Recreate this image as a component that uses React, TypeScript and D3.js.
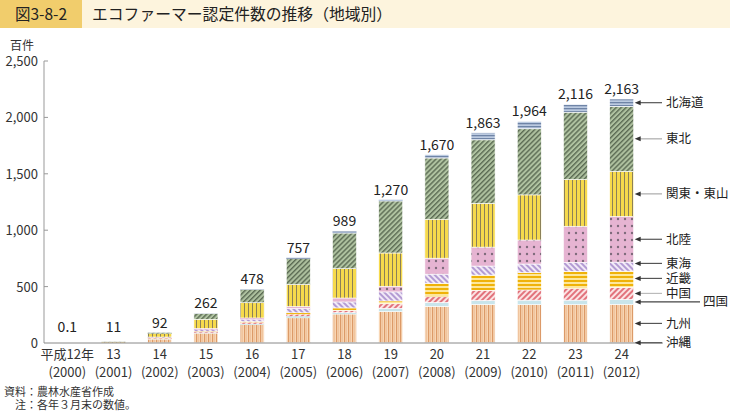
import React from "react";
import * as d3 from "d3";

const yearLabels = ["平成12年", "13", "14", "15", "16", "17", "18", "19", "20", "21", "22", "23", "24"];
const westernYears = ["(2000)", "(2001)", "(2002)", "(2003)", "(2004)", "(2005)", "(2006)", "(2007)", "(2008)", "(2009)", "(2010)", "(2011)", "(2012)"];
const totals = [0.1, 11, 92, 262, 478, 757, 989, 1270, 1670, 1863, 1964, 2116, 2163];

// stacked bottom -> top
const regions = ["沖縄", "九州", "四国", "中国", "近畿", "東海", "北陸", "関東・東山", "東北", "北海道"];
const okinawa = [0, 0.5, 2, 2, 2, 3, 3, 3, 5, 5, 5, 5, 5];
const kyushu = [0.1, 2.5, 32, 85, 160, 220, 253, 275, 320, 337, 335, 335, 337];
const shikoku = [0, 0.5, 3, 5, 8, 15, 13, 30, 35, 36, 40, 40, 45];
const chugoku = [0, 0.5, 5, 8, 12, 15, 18, 40, 50, 89, 90, 105, 105];
const kinki = [0, 0.5, 3, 5, 8, 15, 24, 25, 120, 135, 155, 150, 145];
const tokai = [0, 1, 5, 15, 20, 38, 53, 80, 80, 80, 75, 80, 80];
const hokuriku = [0, 0.5, 3, 10, 12, 18, 35, 50, 142, 168, 213, 320, 405];
const kanto = [0, 3, 30, 80, 135, 195, 260, 295, 345, 388, 400, 415, 400];
const tohoku = [0, 1.5, 8, 50, 116, 228, 315, 460, 543, 563, 586, 596, 576];
const hokkaido = [0, 0.5, 1, 2, 5, 10, 15, 12, 30, 62, 65, 70, 65];
const yTicks = [0, 500, 1000, 1500, 2000, 2500];

const seriesValues = [okinawa, kyushu, shikoku, chugoku, kinki, tokai, hokuriku, kanto, tohoku, hokkaido];
const fills = ["#9a9a9a", "url(#p-kyushu)", "#c9e5eb", "url(#p-chugoku)", "url(#p-kinki)", "url(#p-tokai)", "url(#p-hokuriku)", "url(#p-kanto)", "url(#p-tohoku)", "url(#p-hokkaido)"];
const leaderColors = ["#555", "#555", "#444", "#bbb", "#555", "#555", "#555", "#aaa", "#aaa", "#555"];

const FONT = "'Noto Sans CJK JP', 'Noto Sans', sans-serif";

export default function App() {
  const W = 730, H = 411;
  const x = d3.scaleBand<string>().domain(yearLabels).range([44, 645]).paddingInner(0.48).paddingOuter(0.245);
  const y = d3.scaleLinear().domain([0, 2500]).range([343, 61]);

  const table = yearLabels.map((yl, i) => {
    const row: any = { year: yl };
    regions.forEach((r, k) => (row[r] = seriesValues[k][i]));
    return row;
  });
  const stacked = d3.stack<any>().keys(regions)(table);
  const fmt = d3.format(",");

  const last = yearLabels.length - 1;
  const mids = stacked.map((s) => (y(s[last][0]) + y(s[last][1])) / 2);
  const labelY = mids.slice();
  const mainIdx = [0, 1, 3, 4, 5, 6, 7, 8, 9];
  for (let j = 1; j < mainIdx.length; j++) {
    const below = labelY[mainIdx[j - 1]];
    const k = mainIdx[j];
    labelY[k] = Math.min(labelY[k], below - 15);
  }
  const barRight = (x(yearLabels[last]) as number) + x.bandwidth();

  return (
    <svg width={W} height={H} style={{ position: "absolute", left: 0, top: 0, background: "#fff" }} fontFamily={FONT}>
      <defs>
        <pattern id="p-kyushu" width="4" height="4" patternUnits="userSpaceOnUse">
          <rect width="4" height="4" fill="#f8d6b4" />
          <rect x="0" width="1.2" height="4" fill="#dc9a68" />
          <rect x="2.4" width="0.6" height="4" fill="#ebb890" />
        </pattern>
        <pattern id="p-chugoku" width="4" height="4" patternUnits="userSpaceOnUse" patternTransform="rotate(45)">
          <rect width="4" height="4" fill="#fbe3e3" />
          <rect width="2" height="4" fill="#e2737c" />
        </pattern>
        <pattern id="p-kinki" width="4" height="4" patternUnits="userSpaceOnUse">
          <rect width="4" height="4" fill="#fde79c" />
          <rect width="4" height="2" fill="#efb209" />
        </pattern>
        <pattern id="p-tokai" width="4" height="4" patternUnits="userSpaceOnUse" patternTransform="rotate(-45)">
          <rect width="4" height="4" fill="#f1e9f7" />
          <rect width="2" height="4" fill="#b39bd3" />
        </pattern>
        <pattern id="p-hokuriku" width="7" height="7" patternUnits="userSpaceOnUse">
          <rect width="7" height="7" fill="#e6b4d2" />
          <circle cx="2" cy="2" r="1.2" fill="#7e6a7b" />
        </pattern>
        <pattern id="p-kanto" width="4" height="4" patternUnits="userSpaceOnUse">
          <rect width="4" height="4" fill="#f6da4c" />
          <rect x="0" width="1" height="4" fill="#8c8058" />
        </pattern>
        <pattern id="p-tohoku" width="3.5" height="3.5" patternUnits="userSpaceOnUse" patternTransform="rotate(45)">
          <rect width="3.5" height="3.5" fill="#afc2a0" />
          <rect width="1.4" height="3.5" fill="#5b6b53" />
        </pattern>
        <pattern id="p-hokkaido" width="4" height="3" patternUnits="userSpaceOnUse">
          <rect width="4" height="3" fill="#bccbe1" />
          <rect width="4" height="1.3" fill="#6f84a6" />
        </pattern>
      </defs>

      {/* Title */}
      <rect x={0} y={0} width={82} height={28} fill="#f1cd6c" />
      <rect x={82} y={0} width={648} height={28} fill="#fdf4dd" />
      <text x={15} y={20} fontSize={15.5} fill="#222">図3-8-2</text>
      <text x={92} y={20} fontSize={15.8} fill="#222">エコファーマー認定件数の推移（地域別）</text>

      <text x={10} y={50} fontSize={12} fill="#333">百件</text>

      {/* y axis */}
      <line x1={44} x2={44} y1={y(2500)} y2={y(0)} stroke="#999" strokeWidth={1} />
      {yTicks.map((t) => (
        <g key={t}>
          {t > 0 && <line x1={44} x2={48} y1={y(t)} y2={y(t)} stroke="#999" />}
          <text x={38} y={y(t) + 5} fontSize={13} textAnchor="end" fill="#333">{fmt(t)}</text>
        </g>
      ))}

      {/* bars */}
      {stacked.map((s, k) => (
        <g key={regions[k]}>
          {s.map((d, i) => {
            const h = y(d[0]) - y(d[1]);
            if (h <= 0) return null;
            return (
              <rect key={i} x={x(yearLabels[i])} y={y(d[1])} width={x.bandwidth()} height={h}
                fill={fills[k]} stroke="#fff" strokeWidth={h > 2 ? 0.6 : 0} />
            );
          })}
        </g>
      ))}

      <line x1={44} x2={663} y1={y(0)} y2={y(0)} stroke="#888" strokeWidth={1} />

      {/* totals */}
      {totals.map((t, i) => (
        <text key={i} x={(x(yearLabels[i]) as number) + x.bandwidth() / 2} y={Math.min(y(t) - 5, 332)}
          fontSize={14} textAnchor="middle" fill="#222">{fmt(t)}</text>
      ))}

      {/* x labels */}
      {yearLabels.map((yl, i) => (
        <g key={yl}>
          <text x={(x(yl) as number) + x.bandwidth() / 2} y={359} fontSize={13} textAnchor="middle" fill="#333">{yl}</text>
          <text x={(x(yl) as number) + x.bandwidth() / 2} y={377} fontSize={13} textAnchor="middle" fill="#333">{westernYears[i]}</text>
        </g>
      ))}

      {/* legend leaders */}
      {regions.map((r, k) => {
        const ly = labelY[k];
        const isShikoku = k === 2;
        const lineEnd = isShikoku ? 700 : 662;
        const ax = barRight + 1;
        return (
          <g key={r}>
            <line x1={ax + 4} x2={lineEnd} y1={ly} y2={ly} stroke={leaderColors[k]} strokeWidth={1.2} />
            <path d={`M${ax},${ly} L${ax + 6},${ly - 2.5} L${ax + 6},${ly + 2.5} Z`} fill="#333" />
            <text x={isShikoku ? 703 : 666} y={ly + 4.5} fontSize={12.5} fill="#222">{r}</text>
          </g>
        );
      })}

      {/* footnotes */}
      <text x={4} y={396} fontSize={11} fill="#333">資料：農林水産省作成</text>
      <text x={15} y={409} fontSize={11} fill="#333">注：各年３月末の数値。</text>
    </svg>
  );
}
